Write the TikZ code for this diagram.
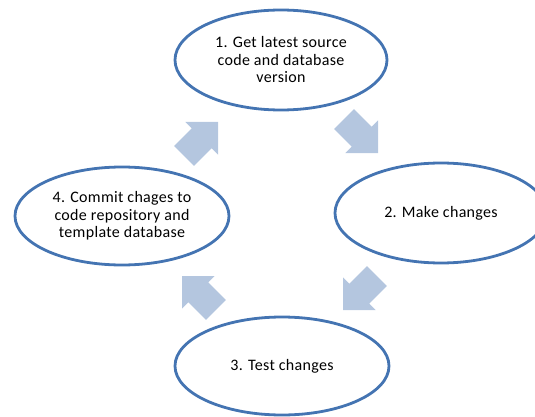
\documentclass[tikz,border=0pt]{standalone}
\usepackage{fontspec}
\setmainfont[LetterSpace=2]{Carlito}
\usetikzlibrary{shapes.geometric}
\definecolor{ringblue}{HTML}{4474B2}
\definecolor{flowfill}{HTML}{B4C6DF}
\tikzset{
  stage/.style={ellipse, draw=ringblue, line width=2.8pt, fill=white,
    inner sep=0pt, align=center, font=\fontsize{16}{17.5}\selectfont},
  flowarrow/.style={fill=flowfill, draw=none}
}
% block arrow with its tip at the local origin, pointing along +x
\newcommand{\blockarrow}[2]{%
  \fill[flowarrow, shift={#1}, rotate=#2]
    (-48pt,-14pt) -- (-23pt,-14pt) -- (-23pt,-23pt) -- (0pt,0pt)
    -- (-23pt,23pt) -- (-23pt,14pt) -- (-48pt,14pt) -- cycle;}
\begin{document}
\begin{tikzpicture}[x=1pt,y=-1pt]
  \useasboundingbox (0,0) rectangle (535,417);
  \begin{scope}
    \clip (0,0) rectangle (535,417);
    \node[stage, minimum width=212pt, minimum height=100pt] (get) at (281,60)
      {1. Get latest source\\code and database\\version};
    \node[stage, minimum width=212pt, minimum height=100pt] (make) at (441,213)
      {2. Make changes};
    \node[stage, minimum width=214pt, minimum height=98pt] (test) at (282,366)
      {3. Test changes};
    \node[stage, minimum width=214pt, minimum height=98pt] (commit) at (122,216)
      {4. Commit chages to\\code repository and\\template database};
  \end{scope}
  % cycle arrows between the stages
  \blockarrow{(218,122)}{45}
  \blockarrow{(378,153)}{-45}
  \blockarrow{(343,310)}{-135}
  \blockarrow{(182,276)}{135}
\end{tikzpicture}
\end{document}
